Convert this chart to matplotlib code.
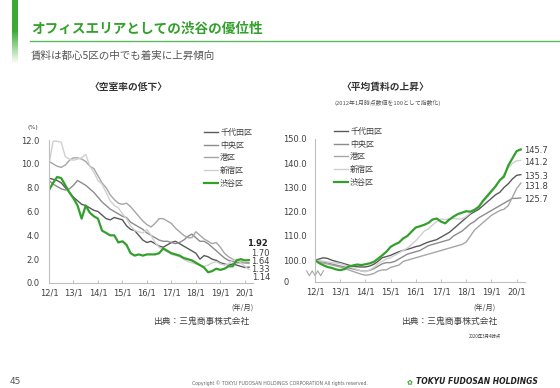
import numpy as np
import matplotlib
matplotlib.use("Agg")
import matplotlib.pyplot as plt
import matplotlib.transforms as mtransforms

plt.rcParams['font.family'] = ['Noto Sans CJK JP', 'DejaVu Sans']

# months since 2012/1, every two months up to 2020/3
months = list(range(0, 100, 2))
tick_months = [0, 12, 24, 36, 48, 60, 72, 84, 96]
tick_labels = ['12/1', '13/1', '14/1', '15/1', '16/1', '17/1', '18/1', '19/1', '20/1']
wards = ['千代田区', '中央区', '港区', '新宿区', '渋谷区']
ward_colors = ['#595959', '#8c8c8c', '#a6a6a6', '#d0d0d0', '#33a02c']
ward_widths = [1.0, 1.0, 1.0, 1.0, 1.6]

# vacancy rate (%)
vac_chiyoda = [8.8, 8.7, 8.6, 8.4, 8.0, 7.6, 7.2, 6.9, 6.6, 6.5, 6.3, 6.1, 6.0, 5.7, 5.4, 5.3, 5.5,
               5.4, 5.3, 4.8, 4.5, 4.4, 4.0, 3.6, 3.4, 3.5, 3.3, 3.1, 3.0, 3.2, 3.4, 3.5, 3.3, 3.1,
               2.9, 2.7, 2.5, 2.0, 2.3, 2.2, 2.0, 1.9, 1.7, 1.6, 1.5, 1.6, 1.5, 1.4, 1.3, 1.33]
vac_chuo = [8.6, 8.3, 8.1, 7.9, 7.8, 7.9, 8.2, 8.6, 8.4, 8.2, 7.9, 7.6, 7.2, 6.8, 6.5, 6.2, 6.0,
            5.8, 5.6, 5.5, 5.1, 4.9, 4.7, 4.5, 4.2, 4.0, 3.8, 3.6, 3.5, 3.5, 3.4, 3.3, 3.4, 3.6,
            3.9, 4.1, 3.8, 3.5, 3.5, 3.3, 3.0, 2.7, 2.4, 2.1, 1.9, 1.8, 1.7, 1.7, 1.7, 1.70]
vac_minato = [10.2, 10.0, 9.8, 9.7, 9.9, 10.3, 10.5, 10.5, 10.4, 10.2, 9.8, 9.6, 9.0, 8.4, 8.0,
              7.4, 7.0, 6.7, 6.6, 6.7, 6.4, 6.0, 5.6, 5.2, 4.9, 4.7, 5.0, 5.4, 5.4, 5.2, 5.0, 4.6,
              4.3, 4.0, 3.8, 3.8, 4.3, 4.0, 3.7, 3.5, 3.3, 3.4, 3.0, 2.5, 2.2, 2.0, 1.9, 1.8, 1.7,
              1.64]
vac_shinjuku = [10.0, 11.9, 11.9, 11.8, 10.6, 10.4, 10.3, 10.4, 10.5, 10.8, 9.8, 9.3, 8.6, 8.3,
                7.6, 6.9, 6.5, 6.3, 5.8, 5.4, 4.8, 4.4, 4.3, 4.2, 4.5, 4.0, 3.4, 3.0, 2.8, 2.6,
                2.4, 2.3, 2.2, 2.0, 1.8, 1.7, 1.6, 1.5, 1.4, 1.5, 1.7, 1.8, 1.6, 1.5, 1.6, 1.9,
                2.0, 1.7, 1.4, 1.14]
vac_shibuya = [7.8, 8.4, 8.9, 8.8, 8.2, 7.6, 7.1, 6.5, 5.4, 6.5, 5.9, 5.6, 5.4, 4.4, 4.2, 4.0,
               4.0, 3.4, 3.5, 3.2, 2.5, 2.3, 2.4, 2.3, 2.4, 2.4, 2.4, 2.5, 2.9, 2.7, 2.5, 2.4,
               2.3, 2.1, 2.0, 1.9, 1.7, 1.5, 1.3, 0.9, 1.0, 1.2, 1.1, 1.2, 1.4, 1.4, 1.9, 2.0,
               1.9, 1.92]

# average rent index (2012/1 = 100)
rent_chiyoda = [100, 100.5, 101.0, 100.7, 100.0, 99.5, 99.0, 98.5, 98.0, 97.5, 97.3, 97.2, 97.2,
                97.6, 98.3, 99.5, 101.0, 101.5, 102.0, 102.8, 103.5, 104.0, 104.5, 105.0, 105.6,
                106.0, 106.8, 107.5, 108.0, 108.5, 109.5, 110.5, 111.5, 113.0, 114.5, 116.0,
                117.5, 119.0, 120.0, 121.0, 122.5, 124.0, 125.5, 127.0, 128.0, 130.0, 131.5,
                133.5, 135.0, 135.3]
rent_chuo = [100, 99.6, 99.2, 98.8, 98.4, 98.0, 97.6, 97.2, 96.8, 96.4, 96.0, 95.6, 95.4, 95.8,
             96.5, 97.5, 98.5, 99.0, 99.0, 99.5, 100.5, 101.5, 102.5, 103.0, 103.5, 104.0, 105.0,
             106.0, 106.5, 107.0, 107.5, 108.0, 108.5, 110.0, 111.0, 112.0, 113.5, 115.0, 116.0,
             117.5, 118.5, 119.5, 120.5, 121.5, 122.5, 123.5, 124.5, 125.5, 125.5, 125.7]
rent_minato = [100, 99.4, 98.8, 98.4, 98.0, 97.6, 97.2, 96.6, 96.0, 95.4, 94.8, 94.2, 93.8, 94.0,
               94.5, 95.5, 96.0, 96.0, 97.0, 97.5, 98.0, 99.5, 100.0, 100.5, 101.0, 101.5, 102.0,
               102.5, 103.0, 103.5, 104.0, 104.5, 105.0, 105.5, 106.0, 106.5, 107.5, 110.0,
               112.5, 114.0, 115.5, 117.0, 118.5, 119.5, 120.5, 121.0, 122.5, 126.0, 129.5, 131.8]
rent_shinjuku = [100, 99.8, 99.6, 99.3, 99.0, 98.8, 98.6, 98.0, 97.4, 96.8, 96.2, 95.6, 95.2,
                 96.0, 97.0, 98.5, 99.5, 100.5, 101.0, 102.0, 103.0, 104.0, 105.0, 106.5, 108.0,
                 110.0, 112.0, 113.0, 114.5, 116.0, 117.0, 116.8, 117.0, 117.2, 117.0, 117.0,
                 118.0, 119.5, 121.0, 122.5, 124.0, 126.0, 128.0, 130.5, 133.0, 135.5, 138.0,
                 140.0, 141.0, 141.2]
rent_shibuya = [100, 98.8, 97.9, 97.2, 96.8, 96.2, 95.9, 96.3, 97.4, 97.8, 98.2, 98.0, 98.3, 98.7,
                99.3, 100.6, 102.0, 103.5, 105.5, 106.5, 107.3, 109.0, 110.0, 111.8, 113.5, 114.0,
                114.6, 115.4, 116.8, 117.2, 115.9, 115.2, 116.8, 118.0, 119.0, 119.6, 120.2, 120.0,
                120.8, 122.0, 124.5, 126.5, 128.5, 130.5, 133.0, 134.5, 139.0, 142.0, 145.0, 145.7]

vac_end_labels = ['1.92', '1.70', '1.64', '1.33', '1.14']
rent_end_labels = ['145.7', '141.2', '135.3', '131.8', '125.7']
vac_yticks = [0, 2, 4, 6, 8, 10, 12]
rent_yticks = [91, 100, 110, 120, 130, 140, 150]
rent_ytick_labels = ['0', '100.0', '110.0', '120.0', '130.0', '140.0', '150.0']

GREEN = '#33a02c'
TXT = '#404040'
W, H = 560, 388


def fx(px):
    return px / W


def fy(py):
    return 1 - py / H


fig = plt.figure(figsize=(5.6, 3.88), dpi=100)
fig.patch.set_facecolor('white')

# header: green side bar, solid at top then fading out
bar = np.concatenate([np.ones(30), np.linspace(1, 0, 34)]).reshape(-1, 1)
bax = fig.add_axes([fx(12), fy(64), fx(6), 64 / H])
cmap = matplotlib.colors.LinearSegmentedColormap.from_list('g', ['white', '#3aaa35'])
bax.imshow(bar, aspect='auto', cmap=cmap, vmin=0, vmax=1)
bax.axis('off')

fig.text(fx(31), fy(29), 'オフィスエリアとしての渋谷の優位性', fontsize=9.8,
         fontweight='bold', color=GREEN, va='center')
fig.add_artist(plt.Line2D([fx(30), 1], [fy(41), fy(41)], color='#5cb85c', lw=1.0))
fig.text(fx(31), fy(55), '賃料は都心5区の中でも着実に上昇傾向', fontsize=7.6,
         color='#555555', va='center')

fig.text(fx(129), fy(87), '〈空室率の低下〉', fontsize=7, fontweight='bold',
         color='#333333', ha='center', va='center')
fig.text(fx(385), fy(87), '〈平均賃料の上昇〉', fontsize=7, fontweight='bold',
         color='#333333', ha='center', va='center')
fig.text(fx(388), fy(103), '(2012年1月時点数値を100として指数化)', fontsize=4.2,
         color='#555555', ha='center', va='center')


def style_axes(ax):
    for s in ['top', 'right']:
        ax.spines[s].set_visible(False)
    for s in ['left', 'bottom']:
        ax.spines[s].set_color('#bfbfbf')
        ax.spines[s].set_linewidth(0.8)
    ax.set_xticks(tick_months)
    ax.set_xticklabels(tick_labels)
    ax.tick_params(axis='both', labelsize=6, colors='#bfbfbf', labelcolor=TXT, width=0.7)
    ax.tick_params(axis='x', direction='in', length=2.5, pad=4)
    ax.tick_params(axis='y', direction='in', length=0, pad=7)
    ax.set_xlim(0, 100)
    for lab in ax.get_xticklabels() + ax.get_yticklabels():
        lab.set_family('DejaVu Sans')


# left: vacancy
ax1 = fig.add_axes([fx(49), fy(283), fx(204), 143 / H])
vac = [vac_chiyoda, vac_chuo, vac_minato, vac_shinjuku, vac_shibuya]
for name, vals, c, lw in zip(wards, vac, ward_colors, ward_widths):
    ax1.plot(months, vals, color=c, lw=lw, label=name)
ax1.set_ylim(0, 12)
ax1.set_yticks(vac_yticks)
ax1.set_yticklabels([f'{v:.1f}' for v in vac_yticks])
style_axes(ax1)
ax1.legend(loc='upper left', bbox_to_anchor=(fx(204), fy(128)), bbox_transform=fig.transFigure,
           frameon=False, fontsize=5.8, handlelength=1.7, handletextpad=0.3,
           labelspacing=0.45, borderpad=0, borderaxespad=0, labelcolor=TXT)
fig.text(fx(27), fy(127), '(%)', fontsize=4.5, color=TXT, va='center', family='DejaVu Sans')

# small leader to the 1.33 label
ax1.annotate('', xy=(months[-1], vac_chiyoda[-1]), xytext=(months[-1] + 1.5, vac_chiyoda[-1]),
             arrowprops=dict(arrowstyle='-', color='#8c8c8c', lw=0.6), annotation_clip=False)

vac_label_y = [243, 253, 261, 269, 278]
vac_label_x = [268, 270, 270, 270, 270]
for i, (lab, px, py) in enumerate(zip(vac_end_labels, vac_label_x, vac_label_y)):
    fig.text(fx(px), fy(py), lab, fontsize=6, color='#222222' if i == 0 else TXT,
             fontweight='bold' if i == 0 else 'normal', ha='right', va='center',
             family='DejaVu Sans')

fig.text(fx(253), fy(308), '(年/月)', fontsize=5.2, color=TXT, ha='right', va='center')
fig.text(fx(249), fy(321), '出典：三鬼商事株式会社', fontsize=6.3, color=TXT,
         ha='right', va='center')

# right: rent index
ax2 = fig.add_axes([fx(315), fy(282), fx(210), 143 / H])
rent = [rent_chiyoda, rent_chuo, rent_minato, rent_shinjuku, rent_shibuya]
for name, vals, c, lw in zip(wards, rent, ward_colors, ward_widths):
    ax2.plot(months, vals, color=c, lw=lw, label=name)
ax2.set_ylim(91, 150)
ax2.set_yticks(rent_yticks)
ax2.set_yticklabels(rent_ytick_labels)
style_axes(ax2)
# labels on this axis are left aligned (the "0" sits under the "1")
ax2.tick_params(axis='y', pad=23)
for lab in ax2.get_yticklabels():
    lab.set_horizontalalignment('left')
ax2.legend(loc='upper left', bbox_to_anchor=(fx(334), fy(127)), bbox_transform=fig.transFigure,
           frameon=False, fontsize=5.8, handlelength=1.7, handletextpad=0.3,
           labelspacing=0.45, borderpad=0, borderaxespad=0, labelcolor=TXT)

# axis break mark
trans = mtransforms.blended_transform_factory(ax2.transAxes, ax2.transData)
ax2.plot([-0.04, -0.027, -0.013, 0.0, 0.013, 0.027, 0.04],
         [95.6, 93.6, 95.6, 93.6, 95.6, 93.6, 95.6], transform=trans,
         color='#a6a6a6', lw=0.8, clip_on=False)

rent_label_y = [151, 162, 177, 186, 200]
for lab, py in zip(rent_end_labels, rent_label_y):
    fig.text(fx(524), fy(py), lab, fontsize=6, color=TXT, ha='left', va='center',
             family='DejaVu Sans')

fig.text(fx(496), fy(308), '(年/月)', fontsize=5.2, color=TXT, ha='right', va='center')
fig.text(fx(497), fy(321), '出典：三鬼商事株式会社', fontsize=6.3, color=TXT,
         ha='right', va='center')
fig.text(fx(485), fy(336), '2020年3月4時点', fontsize=3.2, color=TXT, ha='center', va='center')

# footer
fig.text(fx(10), fy(382), '45', fontsize=6.5, color='#555555', va='center', family='DejaVu Sans')
fig.text(fx(280), fy(383), 'Copyright © TOKYU FUDOSAN HOLDINGS CORPORATION All rights reserved.',
         fontsize=3.3, color='#666666', ha='center', va='center', family='DejaVu Sans')
fig.text(fx(410), fy(382), '✿', fontsize=5, color=GREEN, ha='center', va='center',
         family='DejaVu Sans')
fig.text(fx(416), fy(382), 'TOKYU FUDOSAN HOLDINGS', fontsize=5.5, color='#222222',
         fontweight='bold', style='italic', va='center', family='DejaVu Sans')

fig.savefig('out.png', dpi=100, facecolor='white')
